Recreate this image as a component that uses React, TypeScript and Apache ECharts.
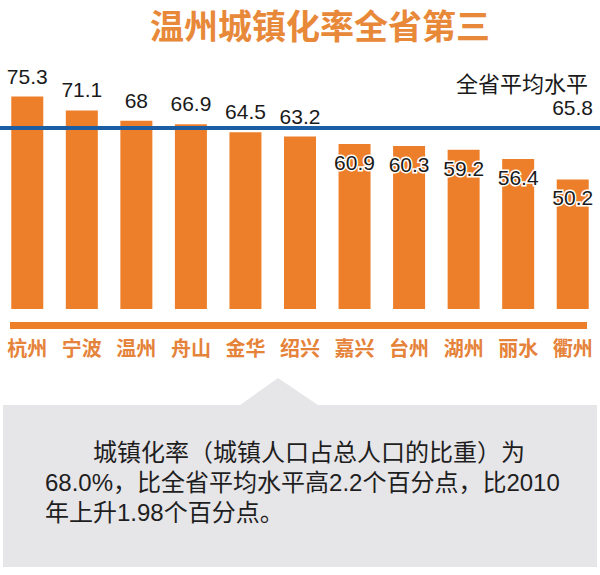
import React, { useEffect, useRef } from "react";
import * as echarts from "echarts";

const titleText = "温州城镇化率全省第三";
const cities = ["杭州", "宁波", "温州", "舟山", "金华", "绍兴", "嘉兴", "台州", "湖州", "丽水", "衢州"];
const rates = [75.3, 71.1, 68, 66.9, 64.5, 63.2, 60.9, 60.3, 59.2, 56.4, 50.2];
const avgLabel = "全省平均水平";
const avgValue = 65.8;
const noteLines = [
  "　　城镇化率（城镇人口占总人口的比重）为",
  "68.0%，比全省平均水平高2.2个百分点，比2010",
  "年上升1.98个百分点。",
];
// bars below this value carry their label inside the bar top
const insideLabelBelow = 62;

const ORANGE = "#EE7F2A";
const TEXT_ORANGE = "#E5833A";
const BLUE = "#1C5EA3";
const CJK = '"Noto Sans CJK SC", "Noto Sans", sans-serif';
const NUM = '"Liberation Sans", Arial, sans-serif';
const NOTE = '"Liberation Sans", "Noto Sans CJK SC", sans-serif';

export default function App() {
  const ref = useRef<HTMLDivElement>(null);
  useEffect(() => {
    if (!ref.current) return;
    const chart = echarts.init(ref.current, undefined, { renderer: "svg" });
    const data = rates.map((v) => {
      const above = v >= insideLabelBelow;
      return {
        value: v,
        label: above
          ? { show: true, position: "top", distance: 10 }
          : {
              show: true,
              position: "insideTop",
              distance: 8,
              textBorderColor: "#ffffff",
              textBorderWidth: 3,
            },
      };
    });
    chart.setOption({
      animation: false,
      backgroundColor: "#ffffff",
      grid: { left: 0, right: 0, top: 81, bottom: 266, containLabel: false },
      xAxis: {
        type: "category",
        data: cities,
        axisLine: { show: false },
        axisTick: { show: false },
        axisLabel: {
          interval: 0,
          margin: 28,
          fontSize: 20,
          fontWeight: "bold",
          color: TEXT_ORANGE,
          fontFamily: CJK,
        },
      },
      yAxis: {
        type: "value",
        min: 11,
        max: 80,
        show: false,
        splitLine: { show: false },
      },
      series: [
        {
          type: "bar",
          data,
          barWidth: 32,
          itemStyle: { color: ORANGE },
          label: {
            color: "#1a1a1a",
            fontSize: 21,
            fontFamily: NUM,
          },
          markLine: {
            silent: true,
            symbol: ["none", "none"],
            data: [{ yAxis: avgValue }],
            lineStyle: { color: BLUE, width: 4, type: "solid" },
            label: {
              show: true,
              position: "insideEndTop",
              distance: [7, 8],
              formatter: () => `{a|${avgLabel}}\n{b|${avgValue}}`,
              rich: {
                a: { fontSize: 22, fontFamily: CJK, color: "#1a1a1a", lineHeight: 25, align: "right", padding: [0, 5, 0, 0] },
                b: { fontSize: 21, fontFamily: NUM, color: "#1a1a1a", lineHeight: 25, align: "right" },
              },
            },
          },
        },
      ],
      graphic: [
        {
          type: "text",
          x: 320,
          y: 24,
          style: {
            text: titleText,
            fontSize: 34,
            fontWeight: "bold",
            fontFamily: CJK,
            fill: "#E8893A",
            align: "center",
            verticalAlign: "middle",
          },
        },
        {
          type: "rect",
          shape: { x: 10, y: 322, width: 577, height: 7 },
          style: { fill: ORANGE },
        },
        {
          type: "polygon",
          shape: {
            points: [
              [3, 405],
              [240, 405],
              [278, 378],
              [318, 405],
              [597, 405],
              [597, 567],
              [3, 567],
            ],
          },
          style: { fill: "#E6E5E8" },
        },
        {
          type: "text",
          x: 45,
          y: 437,
          style: {
            text: noteLines.join("\n"),
            fontSize: 24,
            lineHeight: 30,
            fontFamily: NOTE,
            fill: "#1e1e1e",
            verticalAlign: "top",
          },
        },
      ],
    });
    return () => chart.dispose();
  }, []);
  return (
    <div
      ref={ref}
      style={{ position: "absolute", left: 0, top: 0, width: 600, height: 575, background: "#fff" }}
    />
  );
}
